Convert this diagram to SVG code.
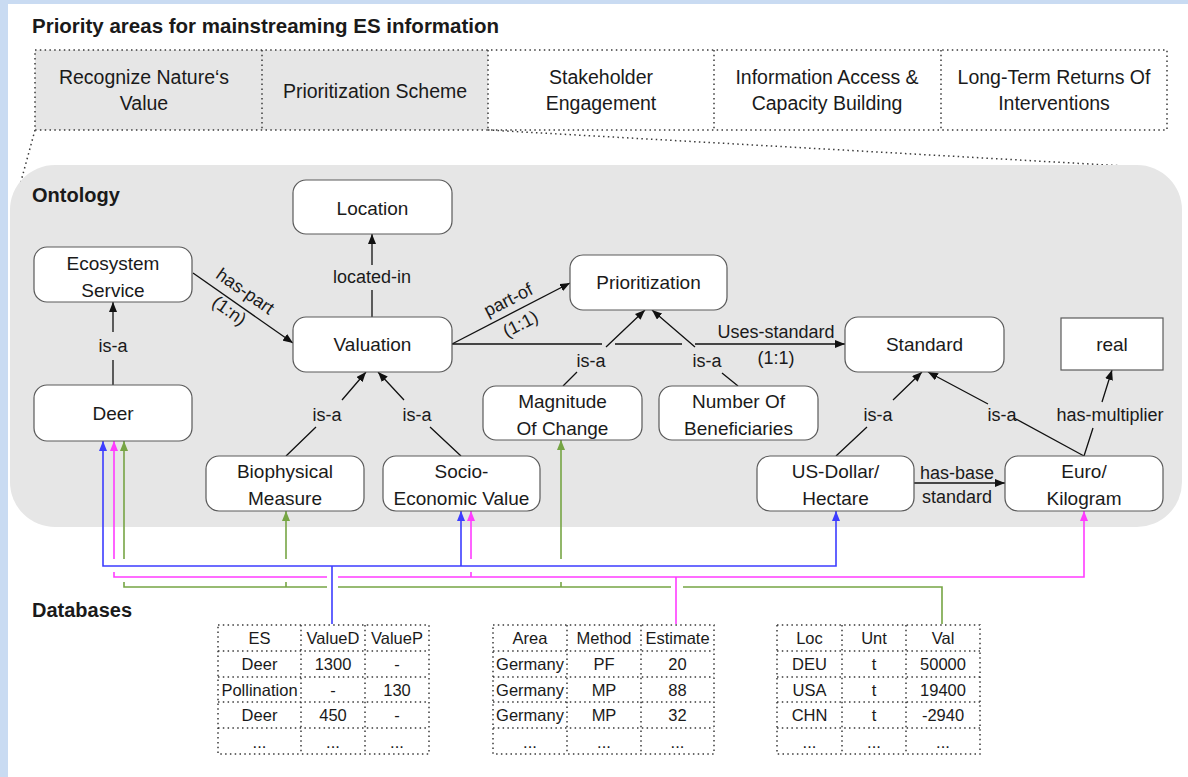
<svg xmlns="http://www.w3.org/2000/svg" width="1188" height="777" viewBox="0 0 1188 777">
<style>
  text { font-family: "Liberation Sans", Arial, sans-serif; fill: #1a1a1a; }
  .title { font-size: 20.5px; font-weight: bold; }
  .sec { font-size: 20px; font-weight: bold; }
  .pa { font-size: 19.5px; text-anchor: middle; }
  .nt { font-size: 19px; text-anchor: middle; }
  .lb { font-size: 18px; text-anchor: middle; }
  .td { font-size: 16.5px; text-anchor: middle; }
  .node { fill: #ffffff; stroke: #5a5a5a; stroke-width: 1.2; }
  .dot { fill: none; stroke: #3a3a3a; stroke-width: 1.5; stroke-dasharray: 1.5 3.3; }
  .edge { fill: none; stroke: #111111; stroke-width: 1.3; }
  .cb { fill: none; stroke: #3d3dff; stroke-width: 1.6; }
  .cm { fill: none; stroke: #ff3cff; stroke-width: 1.6; }
  .cg { fill: none; stroke: #76a544; stroke-width: 1.6; }
</style>
<defs>
  <marker id="ah" markerWidth="10" markerHeight="8" refX="10" refY="4" orient="auto" markerUnits="userSpaceOnUse">
    <path d="M0,0 L10,4 L0,8 z" fill="#111111"/>
  </marker>
  <marker id="ab" markerWidth="10" markerHeight="8" refX="10" refY="4" orient="auto" markerUnits="userSpaceOnUse">
    <path d="M0,0 L10,4 L0,8 z" fill="#3d3dff"/>
  </marker>
  <marker id="am" markerWidth="10" markerHeight="8" refX="10" refY="4" orient="auto" markerUnits="userSpaceOnUse">
    <path d="M0,0 L10,4 L0,8 z" fill="#ff3cff"/>
  </marker>
  <marker id="ag" markerWidth="10" markerHeight="8" refX="10" refY="4" orient="auto" markerUnits="userSpaceOnUse">
    <path d="M0,0 L10,4 L0,8 z" fill="#76a544"/>
  </marker>
</defs>

<!-- page background and frame -->
<rect x="0" y="0" width="1188" height="777" fill="#ffffff"/>
<rect x="0" y="0" width="1188" height="4" fill="#c9dbf2"/>
<rect x="0" y="0" width="8" height="777" fill="#c9dbf2"/>

<!-- priority areas -->
<text class="title" x="32" y="33">Priority areas for mainstreaming ES information</text>
<g id="priority-areas">
  <rect x="35" y="50" width="453" height="80" fill="#e6e6e6"/>
  <g id="pa-recognize">
    <text class="pa" x="144" y="84">Recognize Nature‘s</text>
    <text class="pa" x="144" y="110">Value</text>
  </g>
  <g id="pa-prioritization">
    <text class="pa" x="375" y="98">Prioritization Scheme</text>
  </g>
  <g id="pa-stakeholder">
    <text class="pa" x="601" y="84">Stakeholder</text>
    <text class="pa" x="601" y="110">Engagement</text>
  </g>
  <g id="pa-information">
    <text class="pa" x="827" y="84">Information Access &amp;</text>
    <text class="pa" x="827" y="110">Capacity Building</text>
  </g>
  <g id="pa-longterm">
    <text class="pa" x="1054" y="84">Long-Term Returns Of</text>
    <text class="pa" x="1054" y="110">Interventions</text>
  </g>
  <rect class="dot" x="35" y="50" width="1132" height="80"/>
  <path class="dot" d="M262,50 V130 M488,50 V130 M714,50 V130 M941,50 V130"/>
  <!-- zoom lines toward the ontology panel -->
  <path class="dot" d="M35,130 L11,218 M488,130 L1143,167"/>
</g>

<!-- ontology panel -->
<rect x="10" y="165" width="1172" height="362" rx="45" ry="45" fill="#e6e6e6"/>
<text class="sec" x="32" y="202">Ontology</text>

<g id="connectors">
  <!-- ontology relations -->
  <path class="edge" d="M372,317 V290 M372,265 V234" marker-end="url(#ah)"/>
  <path class="edge" d="M193,273 L293,343" marker-end="url(#ah)"/>
  <path class="edge" d="M452,344 L570,283" marker-end="url(#ah)"/>
  <path class="edge" d="M452,344 H602 M615,344 H682 M695,344 H845" marker-end="url(#ah)"/>
  <path class="edge" d="M113,385 V360 M113,332 V302" marker-end="url(#ah)"/>
  <path class="edge" d="M563,386 L577,372 M606,347 L645,310" marker-end="url(#ah)"/>
  <path class="edge" d="M738,386 L722,373 M695,347 L652,310" marker-end="url(#ah)"/>
  <path class="edge" d="M286,456 L316,427 M342,400 L366,372" marker-end="url(#ah)"/>
  <path class="edge" d="M461,456 L430,427 M404,400 L378,372" marker-end="url(#ah)"/>
  <path class="edge" d="M836,456 L867,427 M893,400 L922,372" marker-end="url(#ah)"/>
  <path class="edge" d="M1084,456 L1014,418 M988,404 L928,372" marker-end="url(#ah)"/>
  <path class="edge" d="M1084,456 L1093,428 M1102,402 L1112,370" marker-end="url(#ah)"/>
  <path class="edge" d="M914,483 H1005" marker-end="url(#ah)"/>

  <!-- relation labels -->
  <text class="lb" x="372" y="283">located-in</text>
  <g transform="translate(244,308.7) rotate(35)">
    <text class="lb" x="-9" y="-9">has-part</text>
    <text class="lb" x="-11" y="16">(1:n)</text>
  </g>
  <g transform="translate(515,311) rotate(-27)">
    <text class="lb" x="-1" y="-7">part-of</text>
    <text class="lb" x="-1" y="20">(1:1)</text>
  </g>
  <text class="lb" x="776" y="338">Uses-standard</text>
  <text class="lb" x="776" y="364">(1:1)</text>
  <text class="lb" x="113" y="352">is-a</text>
  <text class="lb" x="591" y="367">is-a</text>
  <text class="lb" x="707" y="367">is-a</text>
  <text class="lb" x="327" y="421">is-a</text>
  <text class="lb" x="417" y="421">is-a</text>
  <text class="lb" x="878" y="421">is-a</text>
  <text class="lb" x="1002" y="421">is-a</text>
  <text class="lb" x="1110" y="421">has-multiplier</text>
  <text class="lb" x="957" y="479">has-base</text>
  <text class="lb" x="957" y="503">standard</text>

  <!-- database links: blue -->
  <path class="cb" d="M332,566 H103 V441" marker-end="url(#ab)"/>
  <path class="cb" d="M332,566 H836 V511" marker-end="url(#ab)"/>
  <path class="cb" d="M461,566 V511" marker-end="url(#ab)"/>
  <path class="cb" d="M332,566 V624"/>
  <!-- database links: magenta -->
  <path class="cm" d="M114,559 V441" marker-end="url(#am)"/>
  <path class="cm" d="M114,572 V577 H327"/>
  <path class="cm" d="M338,577 H1084 V511" marker-end="url(#am)"/>
  <path class="cm" d="M471,559 V511" marker-end="url(#am)"/>
  <path class="cm" d="M471,572 V577"/>
  <path class="cm" d="M676,577 V624"/>
  <!-- database links: green -->
  <path class="cg" d="M124,559 V441" marker-end="url(#ag)"/>
  <path class="cg" d="M124,582 V587 H327 M338,587 H671 M683,587 H942 V624"/>
  <path class="cg" d="M286,559 V511" marker-end="url(#ag)"/>
  <path class="cg" d="M286,582 V587"/>
  <path class="cg" d="M561,559 V440" marker-end="url(#ag)"/>
  <path class="cg" d="M561,582 V587"/>
</g>

<!-- ontology nodes -->
<g id="n-location"><rect class="node" x="293" y="180" width="159" height="54" rx="13"/><text class="nt" x="372.5" y="215">Location</text></g>
<g id="n-ecosystem-service"><rect class="node" x="34" y="247" width="158" height="55" rx="13"/><text class="nt" x="113" y="270">Ecosystem</text><text class="nt" x="113" y="297">Service</text></g>
<g id="n-valuation"><rect class="node" x="293" y="317" width="159" height="55" rx="13"/><text class="nt" x="372.5" y="351">Valuation</text></g>
<g id="n-prioritization"><rect class="node" x="570" y="255" width="157" height="55" rx="13"/><text class="nt" x="648.5" y="289">Prioritization</text></g>
<g id="n-standard"><rect class="node" x="845" y="317" width="159" height="55" rx="13"/><text class="nt" x="924.5" y="351">Standard</text></g>
<g id="n-real"><rect class="node" x="1061" y="318" width="102" height="52"/><text class="nt" x="1112" y="351">real</text></g>
<g id="n-deer"><rect class="node" x="34" y="385" width="158" height="56" rx="13"/><text class="nt" x="113" y="420">Deer</text></g>
<g id="n-magnitude"><rect class="node" x="483" y="386" width="159" height="54" rx="13"/><text class="nt" x="562.5" y="408">Magnitude</text><text class="nt" x="562.5" y="435">Of Change</text></g>
<g id="n-beneficiaries"><rect class="node" x="659" y="386" width="159" height="54" rx="13"/><text class="nt" x="738.5" y="408">Number Of</text><text class="nt" x="738.5" y="435">Beneficiaries</text></g>
<g id="n-biophysical"><rect class="node" x="206" y="456" width="158" height="55" rx="13"/><text class="nt" x="285" y="478">Biophysical</text><text class="nt" x="285" y="505">Measure</text></g>
<g id="n-socio"><rect class="node" x="383" y="456" width="157" height="55" rx="13"/><text class="nt" x="461.5" y="478">Socio-</text><text class="nt" x="461.5" y="505">Economic Value</text></g>
<g id="n-usd"><rect class="node" x="757" y="456" width="157" height="55" rx="13"/><text class="nt" x="835.5" y="478">US-Dollar/</text><text class="nt" x="835.5" y="505">Hectare</text></g>
<g id="n-euro"><rect class="node" x="1005" y="456" width="158" height="55" rx="13"/><text class="nt" x="1084" y="478">Euro/</text><text class="nt" x="1084" y="505">Kilogram</text></g>

<!-- databases -->
<text class="sec" x="32" y="617">Databases</text>

<g id="db-valuation">
  <rect class="dot" x="218" y="625" width="211" height="129"/>
  <path class="dot" d="M301,625 V754 M365,625 V754 M218,651 H429 M218,677 H429 M218,702 H429 M218,728 H429"/>
  <text class="td" x="259.5" y="644">ES</text><text class="td" x="333" y="644">ValueD</text><text class="td" x="397" y="644">ValueP</text>
  <text class="td" x="259.5" y="670">Deer</text><text class="td" x="333" y="670">1300</text><text class="td" x="397" y="670">-</text>
  <text class="td" x="259.5" y="696">Pollination</text><text class="td" x="333" y="696">-</text><text class="td" x="397" y="696">130</text>
  <text class="td" x="259.5" y="721">Deer</text><text class="td" x="333" y="721">450</text><text class="td" x="397" y="721">-</text>
  <text class="td" x="259.5" y="748">...</text><text class="td" x="333" y="748">...</text><text class="td" x="397" y="748">...</text>
</g>

<g id="db-estimates">
  <rect class="dot" x="493" y="625" width="221" height="129"/>
  <path class="dot" d="M567,625 V754 M641,625 V754 M493,651 H714 M493,677 H714 M493,702 H714 M493,728 H714"/>
  <text class="td" x="530" y="644">Area</text><text class="td" x="604" y="644">Method</text><text class="td" x="677.5" y="644">Estimate</text>
  <text class="td" x="530" y="670">Germany</text><text class="td" x="604" y="670">PF</text><text class="td" x="677.5" y="670">20</text>
  <text class="td" x="530" y="696">Germany</text><text class="td" x="604" y="696">MP</text><text class="td" x="677.5" y="696">88</text>
  <text class="td" x="530" y="721">Germany</text><text class="td" x="604" y="721">MP</text><text class="td" x="677.5" y="721">32</text>
  <text class="td" x="530" y="748">...</text><text class="td" x="604" y="748">...</text><text class="td" x="677.5" y="748">...</text>
</g>

<g id="db-locations">
  <rect class="dot" x="777" y="625" width="203" height="129"/>
  <path class="dot" d="M842,625 V754 M906,625 V754 M777,651 H980 M777,677 H980 M777,702 H980 M777,728 H980"/>
  <text class="td" x="809.5" y="644">Loc</text><text class="td" x="874" y="644">Unt</text><text class="td" x="943" y="644">Val</text>
  <text class="td" x="809.5" y="670">DEU</text><text class="td" x="874" y="670">t</text><text class="td" x="943" y="670">50000</text>
  <text class="td" x="809.5" y="696">USA</text><text class="td" x="874" y="696">t</text><text class="td" x="943" y="696">19400</text>
  <text class="td" x="809.5" y="721">CHN</text><text class="td" x="874" y="721">t</text><text class="td" x="943" y="721">-2940</text>
  <text class="td" x="809.5" y="748">...</text><text class="td" x="874" y="748">...</text><text class="td" x="943" y="748">...</text>
</g>
</svg>
